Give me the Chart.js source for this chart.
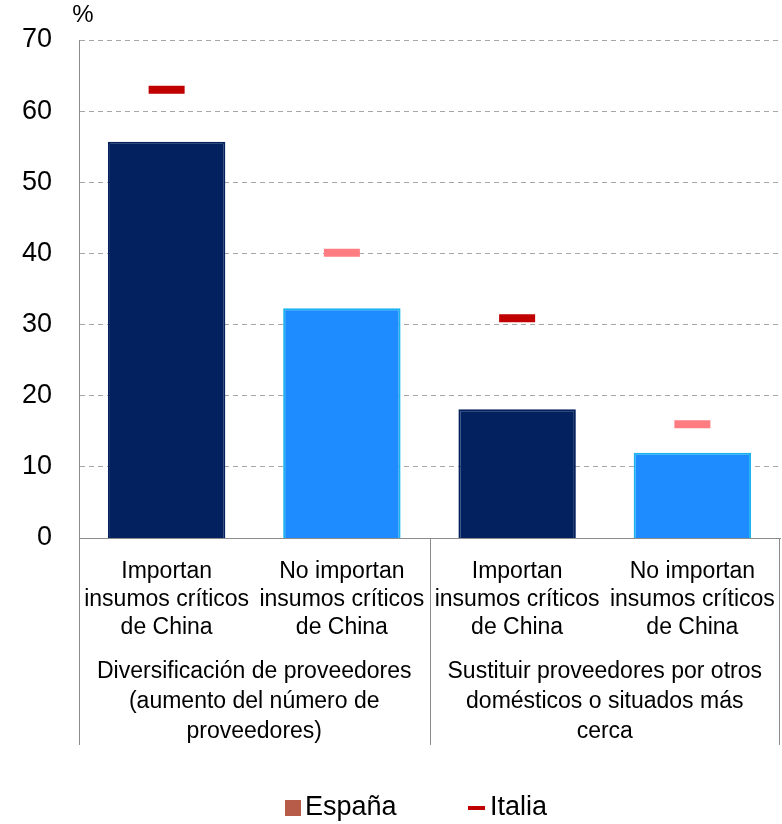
<!DOCTYPE html>
<html>
<head>
<meta charset="utf-8">
<script src="https://cdn.jsdelivr.net/npm/chart.js@4.4.1/dist/chart.umd.min.js"></script>
<style>
  html, body { margin: 0; padding: 0; background: #fff; overflow: hidden; }
  #wrap { width: 782px; height: 824px; position: relative; }
</style>
</head>
<body>
<div id="wrap"><canvas id="chart"></canvas></div>
<script>
const categories = [
  ['Importan', 'insumos críticos', 'de China'],
  ['No importan', 'insumos críticos', 'de China'],
  ['Importan', 'insumos críticos', 'de China'],
  ['No importan', 'insumos críticos', 'de China']
];
const groups = [
  ['Diversificación de proveedores', '(aumento del número de', 'proveedores)'],
  ['Sustituir proveedores por otros', 'domésticos o situados más', 'cerca']
];
const espana = [55.7, 32.3, 18.1, 12.0];
const italia = [63.0, 40.1, 30.9, 16.0];

const FONT = '"Liberation Sans", Arial, Helvetica, sans-serif';
const barColors = ['#03215e', '#1e8cff', '#03215e', '#1e8cff'];
const barBorders = ['#03215e', '#19b4f0', '#03215e', '#19b4f0'];
const markColors = ['#c00000', '#ff7c80', '#c00000', '#ff7c80'];

// separators, group labels, "%" and the legend
const extras = {
  id: 'extras',
  afterDraw(chart) {
    const { ctx, chartArea: a, scales: { x } } = chart;
    ctx.save();
    ctx.strokeStyle = '#8c8c8c';
    ctx.lineWidth = 1;
    const mid = (x.getPixelForValue(1) + x.getPixelForValue(2)) / 2;
    [a.left, mid, a.right - 1].forEach(px => {
      ctx.beginPath();
      ctx.moveTo(Math.round(px) + 0.5, a.bottom);
      ctx.lineTo(Math.round(px) + 0.5, 745);
      ctx.stroke();
    });

    ctx.fillStyle = '#000';
    ctx.font = '23px ' + FONT;
    ctx.textAlign = 'center';
    ctx.textBaseline = 'middle';
    const bounds = [a.left, mid, a.right];
    groups.forEach((lines, i) => {
      const cx = (bounds[i] + bounds[i + 1]) / 2;
      lines.forEach((t, j) => ctx.fillText(t, cx, 672 + j * 30));
    });

    ctx.font = '24px ' + FONT;
    ctx.fillText('%', 83, 15);

    // legend
    ctx.font = '27px ' + FONT;
    ctx.textAlign = 'left';
    const ly = 808;
    ctx.fillStyle = '#b65c48';
    ctx.fillRect(285, ly - 8, 16, 16);
    ctx.fillStyle = '#000';
    ctx.fillText(chart.data.datasets[0].label, 305, ly);
    ctx.strokeStyle = '#c00000';
    ctx.lineWidth = 4;
    ctx.beginPath();
    ctx.moveTo(468, ly);
    ctx.lineTo(485, ly);
    ctx.stroke();
    ctx.fillText(chart.data.datasets[1].label, 490, ly);
    ctx.restore();
  }
};

new Chart(document.getElementById('chart'), {
  type: 'bar',
  data: {
    labels: categories,
    datasets: [
      {
        label: 'España',
        data: espana,
        backgroundColor: barColors,
        borderColor: barBorders,
        borderWidth: 2,
        barPercentage: 0.67,
        categoryPercentage: 1.0,
        order: 2
      },
      {
        type: 'line',
        label: 'Italia',
        data: italia,
        showLine: false,
        pointStyle: 'line',
        pointRadius: 18,
        pointHoverRadius: 18,
        pointBorderWidth: 8,
        pointHoverBorderWidth: 8,
        pointBorderColor: markColors,
        pointBackgroundColor: markColors,
        order: 1
      }
    ]
  },
  options: {
    responsive: true,
    maintainAspectRatio: false,
    animation: false,
    layout: { autoPadding: false, padding: { top: 40, right: 2, left: 20, bottom: 0 } },
    plugins: {
      legend: { display: false },
      tooltip: { enabled: false }
    },
    scales: {
      x: {
        grid: { display: false },
        border: { display: true, color: '#8c8c8c', width: 1 },
        ticks: {
          color: '#000',
          font: { family: FONT, size: 23, lineHeight: 1.22 },
          padding: 12,
          maxRotation: 0,
          autoSkip: false
        },
        afterFit(scale) {
          scale.height = 286;
          scale.paddingLeft = 0;
          scale.paddingRight = 0;
        }
      },
      y: {
        min: 0,
        max: 70,
        ticks: {
          stepSize: 10,
          color: '#000',
          font: { family: FONT, size: 27 },
          padding: 27
        },
        grid: {
          drawTicks: false,
          color: '#a6a6a6',
          lineWidth: ctx => ctx.tick.value === 0 ? 0 : 1
        },
        border: { display: true, color: '#8c8c8c', dash: [5, 4], width: 1 },
        afterFit(scale) {
          scale.width = 59;
          scale.paddingTop = 0;
          scale.paddingBottom = 0;
        }
      }
    }
  },
  plugins: [extras]
});
</script>
</body>
</html>
